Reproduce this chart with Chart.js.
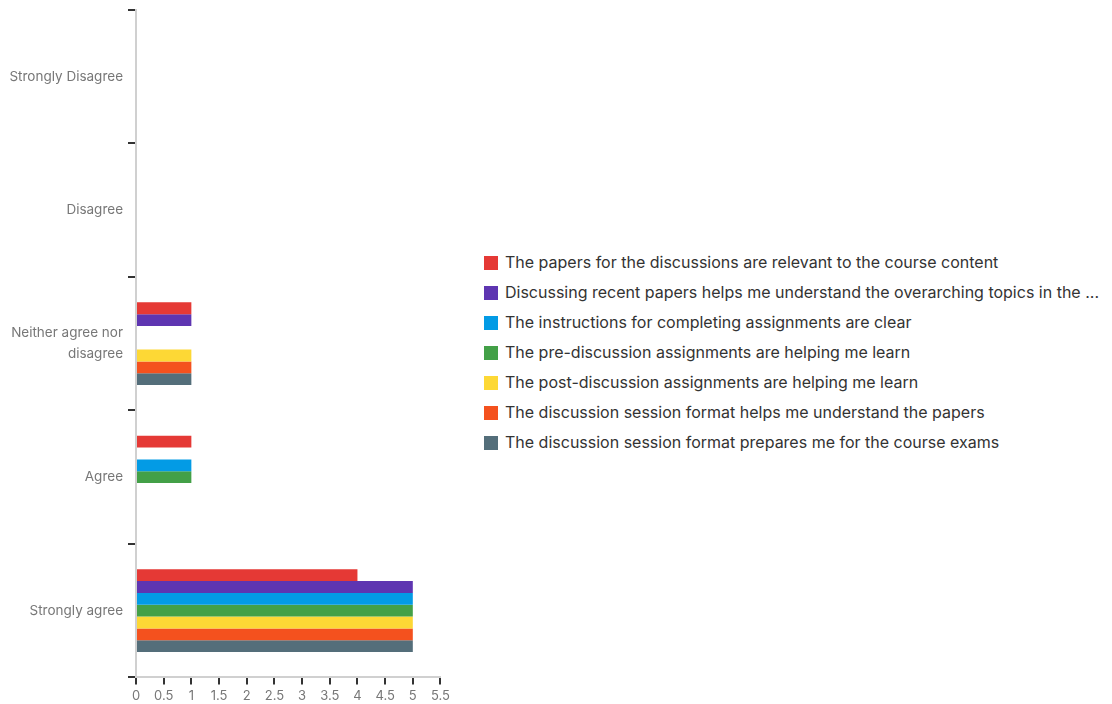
<!DOCTYPE html>
<html>
<head>
<meta charset="utf-8">
<script src="https://cdn.jsdelivr.net/npm/chart.js@4/dist/chart.umd.min.js"></script>
<style>
    body { margin: 0; background: #fff; width: 1112px; height: 704px; overflow: hidden; position: relative; }
    #chart-wrap { position: absolute; left: 0; top: 0; width: 454px; height: 710px; }
    #legend { position: absolute; left: 484px; top: 252px; font-family: Inter, sans-serif; font-size: 16px; color: #333; }
    #legend div { height: 30px; line-height: 21px; white-space: nowrap; }
    #legend span { display: inline-block; width: 14px; height: 14px; margin-right: 7px; vertical-align: -2px; }
</style>
</head>
<body>
<div id="chart-wrap"><canvas id="surveyChart"></canvas></div>
<div id="legend"></div>
<script>
// Response categories (top to bottom)
const categories = [
    'Strongly Disagree',
    'Disagree',
    ['Neither agree nor', 'disagree'],
    'Agree',
    'Strongly agree'
];

// Survey statements
const statements = [
    'The papers for the discussions are relevant to the course content',
    'Discussing recent papers helps me understand the overarching topics in the ...',
    'The instructions for completing assignments are clear',
    'The pre-discussion assignments are helping me learn',
    'The post-discussion assignments are helping me learn',
    'The discussion session format helps me understand the papers',
    'The discussion session format prepares me for the course exams'
];

// Counts per statement, in category order
const papersRelevant = [0, 0, 1, 1, 4];
const recentPapers = [0, 0, 1, 0, 5];
const instructionsClear = [0, 0, 0, 1, 5];
const preDiscussion = [0, 0, 0, 1, 5];
const postDiscussion = [0, 0, 1, 0, 5];
const sessionPapers = [0, 0, 1, 0, 5];
const sessionExams = [0, 0, 1, 0, 5];

const seriesValues = [papersRelevant, recentPapers, instructionsClear, preDiscussion, postDiscussion, sessionPapers, sessionExams];
const seriesColors = ['#E53935', '#5E35B1', '#039BE5', '#43A047', '#FDD835', '#F4511E', '#546E7A'];

const xTicks = [0, 0.5, 1, 1.5, 2, 2.5, 3, 3.5, 4, 4.5, 5, 5.5];

const ctx = document.getElementById('surveyChart').getContext('2d');
const surveyChart = new Chart(ctx, {
    type: 'bar',
    data: {
        labels: categories,
        datasets: statements.map((s, i) => ({
            label: s,
            data: seriesValues[i],
            backgroundColor: seriesColors[i],
            borderWidth: 0,
            categoryPercentage: 0.62,
            barPercentage: 1
        }))
    },
    options: {
        indexAxis: 'y',
        responsive: true,
        maintainAspectRatio: false,
        animation: false,
        layout: { padding: { top: 10, left: 6, right: 0, bottom: 2 } },
        plugins: {
            legend: { display: false },
            tooltip: { enabled: false }
        },
        scales: {
            x: {
                min: 0,
                max: 5.5,
                afterBuildTicks: scale => { scale.ticks = xTicks.map(v => ({ value: v })); },
                ticks: {
                    color: '#777',
                    font: { family: 'Inter', size: 13 },
                    padding: 4,
                    callback: value => String(value)
                },
                grid: { drawOnChartArea: false, tickLength: 7, color: '#333', lineWidth: 2 },
                border: { color: '#d0d0d0', width: 2 }
            },
            y: {
                afterFit: scale => {
                    scale.width = 130;
                    scale.paddingTop = 0;
                    scale.paddingBottom = 0;
                },
                ticks: { color: '#777', font: { family: 'Inter', size: 13.5, lineHeight: 1.55 }, padding: 5 },
                grid: { drawOnChartArea: false, offset: true, tickLength: 8, color: '#333', lineWidth: 2 },
                border: { color: '#d0d0d0', width: 2 }
            }
        }
    }
});

// Build legend from the datasets
const legendBox = document.getElementById('legend');
statements.forEach((s, i) => {
    const row = document.createElement('div');
    row.innerHTML = `<span style="background:${seriesColors[i]}"></span>${s}`;
    legendBox.appendChild(row);
});
</script>
</body>
</html>
